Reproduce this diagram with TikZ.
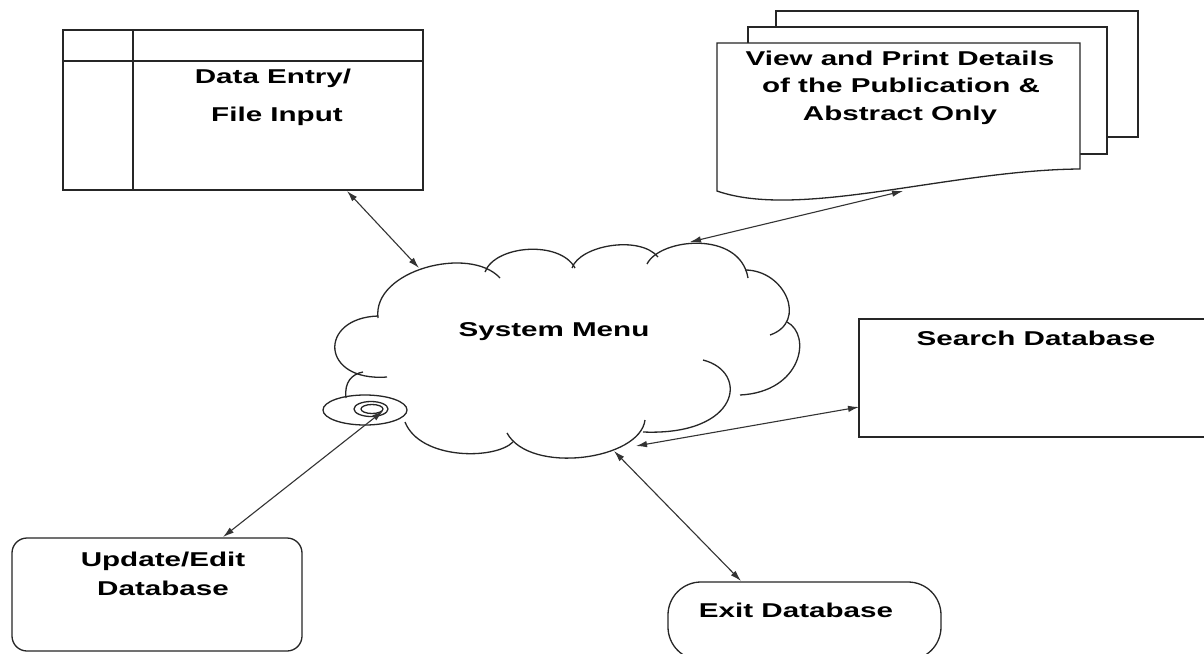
\documentclass[tikz,border=0pt]{standalone}
\usepackage{fontspec}
\setmainfont{Liberation Sans}
\usetikzlibrary{arrows.meta}
\newcommand\sx[1]{\scalebox{1.48}[1]{#1}}
\begin{document}
\begin{tikzpicture}[x=1pt,y=1pt,
  line/.style={draw=black!85, line width=1.3pt},
  conn/.style={draw=black!80, line width=1.1pt, {Latex[length=11pt,width=6.5pt]}-{Latex[length=11pt,width=6.5pt]}},
  lbl/.style={font=\fontsize{20}{24}\selectfont\bfseries, inner sep=0pt, anchor=base},
]
\useasboundingbox[fill=white] (0,0) rectangle (1204,-653);

% Data entry box
\draw[line] (63,-30) rectangle (423,-190);
\draw[line] (133,-30) -- (133,-190);
\draw[line] (63,-61) -- (423,-61);

% Document stack
\draw[line, fill=white] (776,-11) rectangle (1138,-137);
\draw[line, fill=white] (748,-27) rectangle (1107,-154);
\draw[line, fill=white] (717,-43) -- (1080,-43) -- (1080,-169)
   .. controls (950,-170) and (800,-220) .. (717,-191) -- cycle;

% Search box (right edge beyond page)
\draw[line] (1210,-319) -- (859,-319) -- (859,-437) -- (1210,-437);

% Update box
\draw[line, rounded corners=15pt] (12,-538) rectangle (302,-651);

% Exit terminator
\draw[line, rounded corners=33pt] (668,-582) rectangle (941,-660);

% Cloud
\draw[line] (378,-318) .. controls (372,-270) and (470,-245) .. (500,-278);
\draw[line] (485,-272) .. controls (495,-245) and (560,-240) .. (575,-268);
\draw[line] (572,-268) .. controls (580,-245) and (640,-235) .. (658,-257);
\draw[line] (647,-264) .. controls (660,-238) and (740,-230) .. (748,-278);
\draw[line] (745,-270) .. controls (785,-270) and (808,-322) .. (770,-335);
\draw[line] (787,-322) .. controls (812,-335) and (802,-392) .. (740,-395);
\draw[line] (703,-360) .. controls (750,-372) and (740,-436) .. (643,-432);
\draw[line] (645,-420) .. controls (640,-460) and (530,-475) .. (507,-433);
\draw[line] (513,-442) .. controls (495,-460) and (420,-460) .. (405,-422);
\draw[line] (346,-398) .. controls (344,-382) and (352,-374) .. (363,-372);
\draw[line] (387,-377) .. controls (320,-382) and (318,-318) .. (378,-316);
% spiral
\draw[line] (365,-410) ellipse [x radius=42, y radius=15];
\draw[line] (371,-409) ellipse [x radius=17, y radius=7.5];
\draw[line] (372,-409) ellipse [x radius=11, y radius=4.5];

% Texts
\node[lbl] (tde1) at (273,-83) {\sx{Data Entry/}};
\node[lbl] (tde2) at (277,-121) {\sx{File Input}};
\node[lbl] (tv1) at (900,-65) {\sx{View and Print Details}};
\node[lbl] (tv2) at (901,-92) {\sx{of the Publication \&}};
\node[lbl] (tv3) at (900,-120) {\sx{Abstract Only}};
\node[lbl] (tsm) at (554,-336) {\sx{System Menu}};
\node[lbl] (tsd) at (1036,-345) {\sx{Search Database}};
\node[lbl] (tu1) at (163,-566) {\sx{Update/Edit}};
\node[lbl] (tu2) at (163,-595) {\sx{Database}};
\node[lbl] (tex) at (796,-617) {\sx{Exit Database}};

% Connector end points
\coordinate (a1s) at (347,-191); \coordinate (a1e) at (419,-268);
\coordinate (a2s) at (903,-191); \coordinate (a2e) at (690,-242);
\coordinate (a3s) at (859,-407); \coordinate (a3e) at (636,-446);
\coordinate (a4s) at (741,-581); \coordinate (a4e) at (614,-451);
\coordinate (a5s) at (223,-537); \coordinate (a5e) at (383,-411);

\draw[conn] (a1s) -- (a1e);
\draw[conn] (a2s) -- (a2e);
\draw[conn] (a3s) -- (a3e);
\draw[conn] (a4s) -- (a4e);
\draw[conn] (a5s) -- (a5e);
\end{tikzpicture}
\end{document}
